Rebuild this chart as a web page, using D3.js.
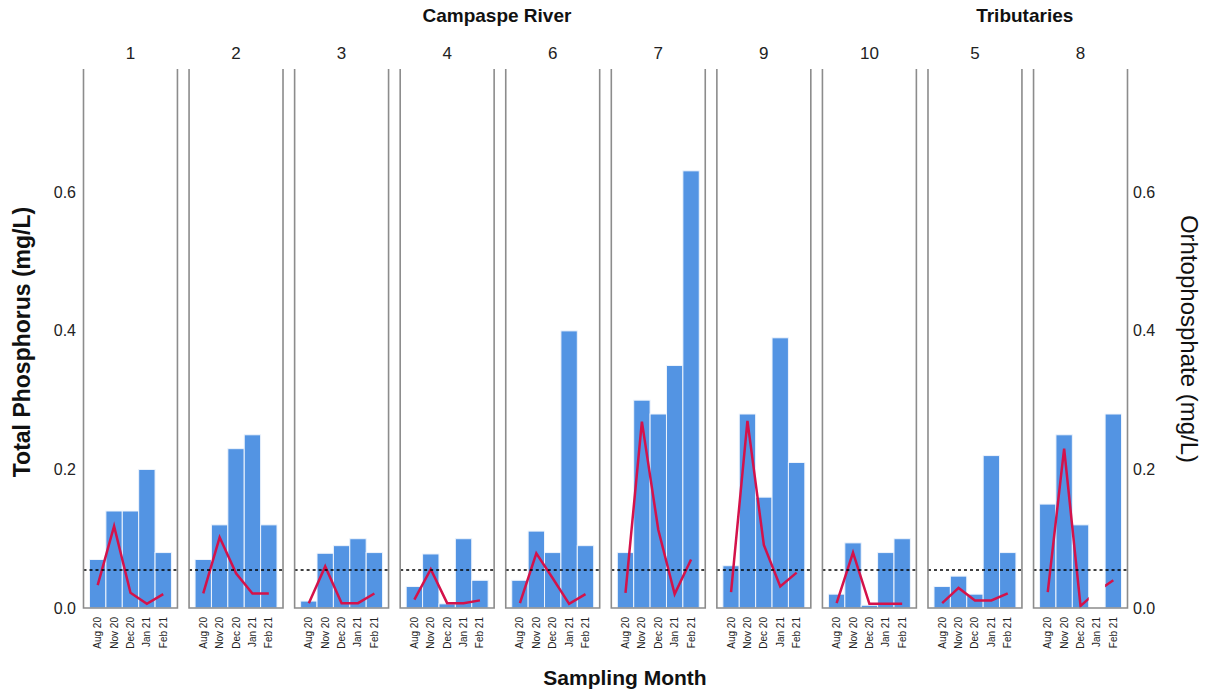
<!DOCTYPE html>
<html>
<head>
<meta charset="utf-8">
<script src="https://cdn.jsdelivr.net/npm/d3@7"></script>
<style>
  body { margin: 0; background: #fff; }
  text { font-family: "Liberation Sans", Arial, sans-serif; }
</style>
</head>
<body>
<svg width="1211" height="693"></svg>
<script>
const sites = ["1", "2", "3", "4", "6", "7", "9", "10", "5", "8"]
const groups = [
  { name: "Campaspe River", first: "1", last: "10" },
  { name: "Tributaries", first: "5", last: "8" },
]
const months = ["Aug 20", "Nov 20", "Dec 20", "Jan 21", "Feb 21"]

// total phosphorus (bars), one row per site, null = not sampled
const totalP = [
  [0.07, 0.14, 0.14, 0.2, 0.08],
  [0.07, 0.12, 0.23, 0.25, 0.12],
  [0.01, 0.079, 0.09, 0.1, 0.08],
  [0.031, 0.078, 0.006, 0.1, 0.04],
  [0.04, 0.111, 0.08, 0.4, 0.09],
  [0.08, 0.3, 0.28, 0.35, 0.631],
  [0.061, 0.28, 0.16, 0.39, 0.21],
  [0.02, 0.094, 0.004, 0.08, 0.1],
  [0.031, 0.046, 0.02, 0.22, 0.08],
  [0.15, 0.25, 0.12, null, 0.28],
]

// orthophosphate (line)
const orthoP = [
  [0.033, 0.118, 0.022, 0.006, 0.02],
  [0.021, 0.102, 0.05, 0.021, 0.021],
  [0.007, 0.06, 0.007, 0.007, 0.021],
  [0.012, 0.056, 0.007, 0.007, 0.011],
  [0.007, 0.079, 0.043, 0.006, 0.02],
  [0.022, 0.269, 0.113, 0.02, 0.07],
  [0.023, 0.27, 0.091, 0.031, 0.051],
  [0.007, 0.08, 0.006, 0.006, 0.006],
  [0.007, 0.029, 0.011, 0.011, 0.021],
  [0.023, 0.23, 0.003, 0.024, 0.04],
]

const guideline = 0.055
const yTicks = [0, 0.2, 0.4, 0.6]

const svg = d3.select("svg")
const plotTop = 69, plotBottom = 608

const xSite = d3.scaleBand().domain(sites).range([83.5, 1127.5]).paddingInner(0.11)
const xMonth = d3.scaleBand().domain(months).range([6, xSite.bandwidth() - 6])
const y = d3.scaleLinear().domain([0, 0.778]).range([plotBottom, plotTop])

const defs = svg.append("defs")

sites.forEach((site, i) => {
  const g = svg.append("g").attr("transform", `translate(${xSite(site)},0)`)
  const w = xSite.bandwidth()

  const rows = months.map((m, j) => ({ month: m, tp: totalP[i][j], op: orthoP[i][j] }))

  g.selectAll("rect.bar")
    .data(rows.filter((d) => d.tp != null))
    .join("rect")
    .attr("class", "bar")
    .attr("x", (d) => xMonth(d.month))
    .attr("width", xMonth.bandwidth())
    .attr("y", (d) => y(d.tp))
    .attr("height", (d) => plotBottom - y(d.tp))
    .attr("fill", "#5394e3")
    .attr("stroke", "#eef4fc")
    .attr("stroke-width", 1)

  // hide the line over months with no bar
  const mask = defs.append("mask").attr("id", "m" + i).attr("maskUnits", "userSpaceOnUse")
  mask.append("rect").attr("x", -10).attr("y", 0).attr("width", w + 20).attr("height", 693).attr("fill", "#fff")
  rows.filter((d) => d.tp == null).forEach((d) => {
    mask.append("rect")
      .attr("x", xMonth(d.month)).attr("y", 0)
      .attr("width", xMonth.bandwidth()).attr("height", 693)
      .attr("fill", "#000")
  })

  const line = d3.line()
    .x((d) => xMonth(d.month) + xMonth.bandwidth() / 2)
    .y((d) => y(d.op))

  g.append("path")
    .datum(rows)
    .attr("d", line)
    .attr("fill", "none")
    .attr("stroke", "#d4124a")
    .attr("stroke-width", 2.5)
    .attr("mask", `url(#m${i})`)

  g.append("line")
    .attr("x1", 0).attr("x2", w)
    .attr("y1", y(guideline)).attr("y2", y(guideline))
    .attr("stroke", "#000")
    .attr("stroke-width", 1.5)
    .attr("stroke-dasharray", "3,3")

  // panel frame: two sides and bottom
  g.append("path")
    .attr("d", `M0,${plotTop}V${plotBottom}H${w}V${plotTop}`)
    .attr("fill", "none")
    .attr("stroke", "#8c8c8c")
    .attr("stroke-width", 1.6)

  g.append("text")
    .attr("x", w / 2).attr("y", 59)
    .attr("text-anchor", "middle")
    .attr("font-size", 17)
    .attr("fill", "#222")
    .text(site)

  g.selectAll("text.month")
    .data(months)
    .join("text")
    .attr("class", "month")
    .attr("transform", (m) => `translate(${xMonth(m) + xMonth.bandwidth() / 2 + 3.5},617) rotate(-90)`)
    .attr("text-anchor", "end")
    .attr("font-size", 10)
    .attr("fill", "#222")
    .text((m) => m)
})

groups.forEach((gr) => {
  const x0 = xSite(gr.first), x1 = xSite(gr.last) + xSite.bandwidth()
  svg.append("text")
    .attr("x", (x0 + x1) / 2 - 3).attr("y", 22)
    .attr("text-anchor", "middle")
    .attr("font-size", 19)
    .attr("font-weight", "bold")
    .attr("fill", "#111")
    .text(gr.name)
})

const fmt = d3.format(".1f")
svg.append("g").selectAll("text")
  .data(yTicks)
  .join("text")
  .attr("x", 76).attr("y", (d) => y(d) + 5.5)
  .attr("text-anchor", "end")
  .attr("font-size", 16)
  .attr("fill", "#222")
  .text(fmt)

svg.append("g").selectAll("text")
  .data(yTicks)
  .join("text")
  .attr("x", 1133).attr("y", (d) => y(d) + 5.5)
  .attr("font-size", 16)
  .attr("fill", "#222")
  .text(fmt)

svg.append("text")
  .attr("transform", `translate(30,342) rotate(-90)`)
  .attr("text-anchor", "middle")
  .attr("font-size", 23)
  .attr("font-weight", "bold")
  .attr("fill", "#111")
  .text("Total Phosphorus (mg/L)")

svg.append("text")
  .attr("transform", `translate(1181,339) rotate(90)`)
  .attr("text-anchor", "middle")
  .attr("font-size", 24)
  .attr("fill", "#111")
  .text("Orhtophosphate (mg/L)")

svg.append("text")
  .attr("x", 625).attr("y", 685)
  .attr("text-anchor", "middle")
  .attr("font-size", 21)
  .attr("font-weight", "bold")
  .attr("fill", "#111")
  .text("Sampling Month")
</script>
</body>
</html>
